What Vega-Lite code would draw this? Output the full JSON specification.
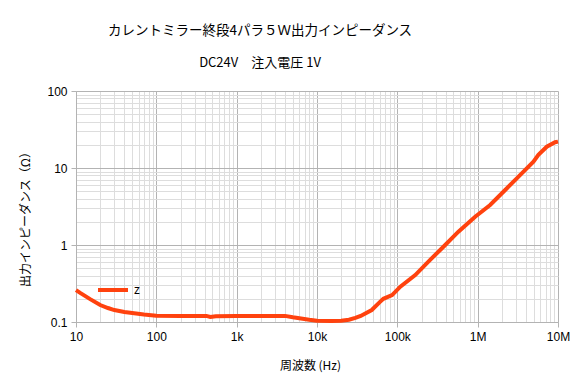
{
  "$schema": "https://vega.github.io/schema/vega-lite/v6.json",
  "autosize": {"type": "none"},
  "width": 482,
  "height": 231,
  "padding": {"left": 76, "top": 91, "right": 27, "bottom": 69},
  "background": "white",
  "title": {
    "text": "カレントミラー終段4パラ５Ｗ出力インピーダンス",
    "subtitle": "DC24V　注入電圧 1V",
    "anchor": "middle",
    "dx": -57,
    "font": "Noto Sans CJK JP",
    "fontSize": 13.5,
    "fontWeight": "normal",
    "color": "#000000",
    "subtitleFont": "Noto Sans CJK JP",
    "subtitleFontSize": 13,
    "subtitleColor": "#000000",
    "subtitlePadding": 20,
    "offset": 15
  },
  "config": {
    "view": {"stroke": null},
    "axis": {
      "labelFont": "Liberation Sans",
      "labelFontSize": 12,
      "labelColor": "#000000",
      "titleFont": "Noto Sans CJK JP",
      "titleFontSize": 12,
      "titleFontWeight": "normal",
      "titleColor": "#000000",
      "domainColor": "#b3b3b3",
      "gridWidth": 1
    }
  },
  "data": {
    "values": [
      {"f": 10, "z": 0.26},
      {"f": 11.4, "z": 0.237},
      {"f": 15, "z": 0.198},
      {"f": 20, "z": 0.166},
      {"f": 25, "z": 0.152},
      {"f": 30, "z": 0.143},
      {"f": 40, "z": 0.135},
      {"f": 50, "z": 0.131},
      {"f": 70, "z": 0.125},
      {"f": 100, "z": 0.121},
      {"f": 200, "z": 0.12},
      {"f": 420, "z": 0.12},
      {"f": 470, "z": 0.116},
      {"f": 550, "z": 0.119},
      {"f": 1000, "z": 0.12},
      {"f": 2000, "z": 0.12},
      {"f": 4000, "z": 0.12},
      {"f": 5000, "z": 0.115},
      {"f": 8000, "z": 0.107},
      {"f": 10000, "z": 0.104},
      {"f": 15000, "z": 0.103},
      {"f": 20000, "z": 0.104},
      {"f": 25000, "z": 0.107},
      {"f": 30000, "z": 0.113},
      {"f": 35000, "z": 0.12},
      {"f": 48000, "z": 0.143},
      {"f": 60000, "z": 0.18},
      {"f": 67000, "z": 0.2},
      {"f": 86000, "z": 0.224},
      {"f": 109000, "z": 0.288},
      {"f": 167000, "z": 0.407},
      {"f": 256000, "z": 0.64},
      {"f": 375000, "z": 0.95},
      {"f": 576000, "z": 1.49},
      {"f": 931000, "z": 2.33},
      {"f": 1430000, "z": 3.31},
      {"f": 2200000, "z": 5.18},
      {"f": 3070000, "z": 7.35},
      {"f": 4950000, "z": 12.1},
      {"f": 5700000, "z": 14.8},
      {"f": 7250000, "z": 18.9},
      {"f": 9200000, "z": 21.6},
      {"f": 10000000, "z": 22}
    ]
  },
  "mark": {"type": "line", "strokeWidth": 4, "interpolate": "linear"},
  "encoding": {
    "x": {
      "field": "f",
      "type": "quantitative",
      "scale": {"type": "log", "domain": [10, 10000000], "nice": false},
      "axis": {
        "title": "周波数 (Hz)",
        "titlePadding": 18,
        "titleX": 234,
        "values": [10,20,30,40,50,60,70,80,90,100,200,300,400,500,600,700,800,900,1000,2000,3000,4000,5000,6000,7000,8000,9000,10000,20000,30000,40000,50000,60000,70000,80000,90000,100000,200000,300000,400000,500000,600000,700000,800000,900000,1000000,2000000,3000000,4000000,5000000,6000000,7000000,8000000,9000000,10000000],
        "labelExpr": "datum.value == 10 ? '10' : datum.value == 100 ? '100' : datum.value == 1000 ? '1k' : datum.value == 10000 ? '10k' : datum.value == 100000 ? '100k' : datum.value == 1000000 ? '1M' : datum.value == 10000000 ? '10M' : ''",
        "labelPadding": 4,
        "labelOverlap": false,
        "labelFlush": false,
        "tickSize": 5,
        "tickColor": {"condition": {"test": "indexof([10,100,1000,10000,100000,1000000,10000000], datum.value) >= 0", "value": "#b3b3b3"}, "value": "transparent"},
        "gridColor": {"condition": {"test": "indexof([10,100,1000,10000,100000,1000000,10000000], datum.value) >= 0", "value": "#b3b3b3"}, "value": "#dddddd"}
      }
    },
    "y": {
      "field": "z",
      "type": "quantitative",
      "scale": {"type": "log", "domain": [0.1, 100], "nice": false},
      "axis": {
        "title": "出力インピーダンス（Ω）",
        "titlePadding": 14,
        "titleY": 125,
        "values": [0.1,0.2,0.3,0.4,0.5,0.6,0.7,0.8,0.9,1,2,3,4,5,6,7,8,9,10,20,30,40,50,60,70,80,90,100],
        "labelExpr": "datum.value == 0.1 ? '0.1' : datum.value == 1 ? '1' : datum.value == 10 ? '10' : datum.value == 100 ? '100' : ''",
        "labelPadding": 4,
        "labelOverlap": false,
        "labelFlush": false,
        "tickSize": 5,
        "tickColor": {"condition": {"test": "indexof([0.1,1,10,100], datum.value) >= 0", "value": "#b3b3b3"}, "value": "transparent"},
        "gridColor": {"condition": {"test": "indexof([0.1,1,10,100], datum.value) >= 0", "value": "#b3b3b3"}, "value": "#dddddd"}
      }
    },
    "color": {
      "datum": "z",
      "type": "nominal",
      "scale": {"range": ["#ff420e"]},
      "legend": {
        "title": null,
        "orient": "none",
        "legendX": 20,
        "legendY": 182,
        "symbolType": "stroke",
        "symbolStrokeWidth": 4,
        "symbolSize": 900,
        "labelFont": "Liberation Sans",
        "labelFontSize": 12,
        "labelColor": "#000000",
        "labelOffset": 4
      }
    }
  }
}
